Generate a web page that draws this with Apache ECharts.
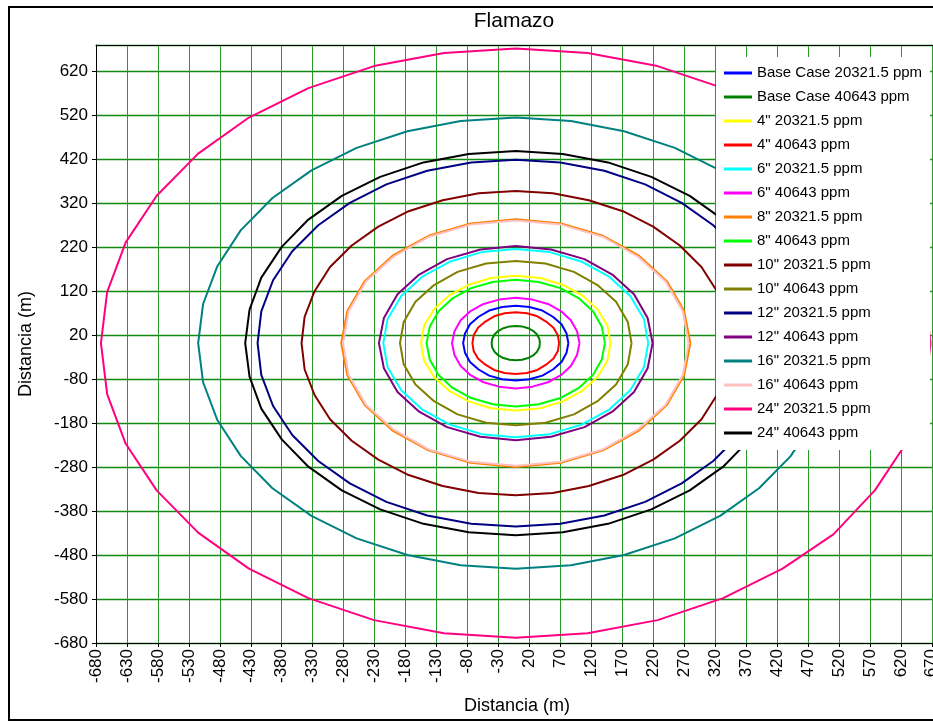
<!DOCTYPE html>
<html lang="es">
<head>
    <meta charset="UTF-8">
    <title>Flamazo</title>
    <script type="text/javascript" src="https://cdn.jsdelivr.net/npm/echarts@6/dist/echarts.min.js"></script>
    <style>
        html, body { margin: 0; padding: 0; background: #fff; }
    </style>
</head>
<body>
<div id="chart" style="width: 933px;height:721px;"></div>
<script>
    // nombres de las curvas (orden de la leyenda)
    var seriesNames = [
        'Base Case 20321.5 ppm', 'Base Case 40643 ppm',
        '4" 20321.5 ppm', '4" 40643 ppm',
        '6" 20321.5 ppm', '6" 40643 ppm',
        '8" 20321.5 ppm', '8" 40643 ppm',
        '10" 20321.5 ppm', '10" 40643 ppm',
        '12" 20321.5 ppm', '12" 40643 ppm',
        '16" 20321.5 ppm', '16" 40643 ppm',
        '24" 20321.5 ppm', '24" 40643 ppm'
    ];
    var seriesColors = [
        '#0000ff', '#008000', '#ffff00', '#ff0000', '#00ffff', '#ff00ff', '#ff8000', '#00ff00',
        '#800000', '#808000', '#000080', '#800080', '#008080', '#ffc0c0', '#ff0080', '#000000'
    ];

    // contornos [x, y] en metros
    var baseCase20321 = [[83,2],[80,24],[72,45],[58,62],[41,76],[20,84],[-2,87],[-24,84],[-45,76],[-62,62],[-76,45],[-84,24],[-87,2],[-84,-20],[-76,-41],[-62,-58],[-45,-72],[-24,-80],[-2,-83],[20,-80],[41,-72],[58,-58],[72,-41],[80,-20],[83,2]];
    var baseCase40643 = [[37,2],[36,12],[32,22],[26,30],[18,36],[8,40],[-2,41],[-12,40],[-22,36],[-30,30],[-36,22],[-40,12],[-41,2],[-40,-8],[-36,-18],[-30,-26],[-22,-32],[-12,-36],[-2,-37],[8,-36],[18,-32],[26,-26],[32,-18],[36,-8],[37,2]];
    var in4_20321 = [[151,2],[146,42],[130,79],[106,110],[75,134],[38,150],[-2,155],[-42,150],[-79,134],[-110,110],[-134,79],[-150,42],[-155,2],[-150,-38],[-134,-75],[-110,-106],[-79,-130],[-42,-146],[-2,-151],[38,-146],[75,-130],[106,-106],[130,-75],[146,-38],[151,2]];
    var in4_40643 = [[68,2],[66,20],[59,37],[47,51],[33,63],[16,70],[-2,72],[-20,70],[-37,63],[-51,51],[-63,37],[-70,20],[-72,2],[-70,-16],[-63,-33],[-51,-47],[-37,-59],[-20,-66],[-2,-68],[16,-66],[33,-59],[47,-47],[59,-33],[66,-16],[68,2]];
    var in6_20321 = [[212,2],[205,57],[183,109],[149,153],[105,187],[53,209],[-2,216],[-57,209],[-109,187],[-153,153],[-187,109],[-209,57],[-216,2],[-209,-53],[-187,-105],[-153,-149],[-109,-183],[-57,-205],[-2,-212],[53,-205],[105,-183],[149,-149],[183,-105],[205,-53],[212,2]];
    var in6_40643 = [[101,2],[97,29],[87,54],[71,75],[50,91],[25,101],[-2,105],[-29,101],[-54,91],[-75,75],[-91,54],[-101,29],[-105,2],[-101,-25],[-91,-50],[-75,-71],[-54,-87],[-29,-97],[-2,-101],[25,-97],[50,-87],[71,-71],[87,-50],[97,-25],[101,2]];
    var in8_20321 = [[280,2],[270,75],[242,143],[197,201],[139,246],[71,274],[-2,284],[-75,274],[-143,246],[-201,201],[-246,143],[-274,75],[-284,2],[-274,-71],[-246,-139],[-201,-197],[-143,-242],[-75,-270],[-2,-280],[71,-270],[139,-242],[197,-197],[242,-139],[270,-71],[280,2]];
    var in8_40643 = [[142,2],[137,39],[123,74],[100,104],[70,127],[35,141],[-2,146],[-39,141],[-74,127],[-104,104],[-127,74],[-141,39],[-146,2],[-141,-35],[-127,-70],[-104,-100],[-74,-123],[-39,-137],[-2,-142],[35,-137],[70,-123],[100,-100],[123,-70],[137,-35],[142,2]];
    var in10_20321 = [[344,2],[339,62],[323,120],[298,175],[263,224],[220,267],[171,302],[116,327],[58,343],[-2,348],[-62,343],[-120,327],[-175,302],[-224,267],[-267,224],[-302,175],[-327,120],[-343,62],[-348,2],[-343,-58],[-327,-116],[-302,-171],[-267,-220],[-224,-263],[-175,-298],[-120,-323],[-62,-339],[-2,-344],[58,-339],[116,-323],[171,-298],[220,-263],[263,-220],[298,-171],[323,-116],[339,-58],[344,2]];
    var in10_40643 = [[185,2],[179,50],[160,96],[130,134],[92,164],[46,183],[-2,189],[-50,183],[-96,164],[-134,134],[-164,96],[-183,50],[-189,2],[-183,-46],[-164,-92],[-134,-130],[-96,-160],[-50,-179],[-2,-185],[46,-179],[92,-160],[130,-130],[160,-92],[179,-46],[185,2]];
    var in12_20321 = [[415,2],[409,74],[390,145],[359,211],[317,270],[266,321],[207,363],[141,394],[70,413],[-2,419],[-74,413],[-145,394],[-211,363],[-270,321],[-321,270],[-363,211],[-394,145],[-413,74],[-419,2],[-413,-70],[-394,-141],[-363,-207],[-321,-266],[-270,-317],[-211,-359],[-145,-390],[-74,-409],[-2,-415],[70,-409],[141,-390],[207,-359],[266,-317],[317,-266],[359,-207],[390,-141],[409,-70],[415,2]];
    var in12_40643 = [[219,2],[211,59],[189,113],[154,158],[109,193],[55,215],[-2,223],[-59,215],[-113,193],[-158,158],[-193,113],[-215,59],[-223,2],[-215,-55],[-193,-109],[-158,-154],[-113,-189],[-59,-211],[-2,-219],[55,-211],[109,-189],[154,-154],[189,-109],[211,-55],[219,2]];
    var in16_20321 = [[511,2],[503,91],[480,177],[442,259],[391,332],[328,395],[255,446],[173,484],[87,507],[-2,515],[-91,507],[-177,484],[-259,446],[-332,395],[-395,332],[-446,259],[-484,177],[-507,91],[-515,2],[-507,-87],[-484,-173],[-446,-255],[-395,-328],[-332,-391],[-259,-442],[-177,-480],[-91,-503],[-2,-511],[87,-503],[173,-480],[255,-442],[328,-391],[391,-328],[442,-255],[480,-173],[503,-87],[511,2]];
    var in16_40643 = [[277,2],[268,74],[240,142],[195,199],[138,244],[70,272],[-2,281],[-74,272],[-142,244],[-199,199],[-244,142],[-272,74],[-281,2],[-272,-70],[-244,-138],[-199,-195],[-142,-240],[-74,-268],[-2,-277],[70,-268],[138,-240],[195,-195],[240,-138],[268,-70],[277,2]];
    var in24_20321 = [[668,2],[658,118],[628,231],[578,337],[511,433],[429,515],[333,582],[227,632],[114,662],[-2,672],[-118,662],[-231,632],[-337,582],[-433,515],[-515,433],[-582,337],[-632,231],[-662,118],[-672,2],[-662,-114],[-632,-227],[-582,-333],[-515,-429],[-433,-511],[-337,-578],[-231,-628],[-118,-658],[-2,-668],[114,-658],[227,-628],[333,-578],[429,-511],[511,-433],[578,-333],[628,-227],[658,-114],[668,2]];
    var in24_40643 = [[435,2],[428,78],[409,151],[376,221],[333,283],[279,337],[217,380],[147,413],[74,432],[-2,439],[-78,432],[-151,413],[-221,380],[-283,337],[-337,283],[-380,221],[-413,151],[-432,78],[-439,2],[-432,-74],[-413,-147],[-380,-217],[-337,-279],[-283,-333],[-221,-376],[-151,-409],[-78,-428],[-2,-435],[74,-428],[147,-409],[217,-376],[279,-333],[333,-279],[376,-217],[409,-147],[428,-74],[435,2]];

    var contours = [
        baseCase20321, baseCase40643, in4_20321, in4_40643, in6_20321, in6_40643, in8_20321, in8_40643,
        in10_20321, in10_40643, in12_20321, in12_40643, in16_20321, in16_40643, in24_20321, in24_40643
    ];

    var font = 'Liberation Sans, Arial, sans-serif';
    var gridGreen = '#2a9a2a';
    var series = [];
    for (var i = 0; i < seriesNames.length; i++) {
        series.push({
            name: seriesNames[i],
            type: 'line',
            data: contours[i],
            color: seriesColors[i],
            showSymbol: false,
            symbol: 'none',
            lineStyle: {width: 2, color: seriesColors[i]}
        });
    }

    var option = {
        animation: false,
        backgroundColor: '#fff',
        title: {
            text: 'Flamazo',
            left: 514,
            textAlign: 'center',
            top: 11,
            padding: 0,
            textStyle: {fontSize: 21, fontWeight: 'normal', color: '#000', fontFamily: font}
        },
        legend: {
            orient: 'vertical',
            left: 716,
            top: 57,
            padding: [4, 8, 5, 8],
            backgroundColor: '#fff',
            icon: 'rect',
            itemWidth: 28,
            itemHeight: 3,
            itemGap: 0,
            textStyle: {fontSize: 15, lineHeight: 24, color: '#000', fontFamily: font},
            data: seriesNames
        },
        grid: {
            left: 96, top: 45, width: 842, height: 598,
            outerBoundsMode: 'none'
        },
        xAxis: [{
            type: 'value',
            min: -680, max: 680, interval: 50,
            name: 'Distancia (m)',
            nameLocation: 'middle',
            nameGap: 54,
            nameTextStyle: {fontSize: 18, color: '#000', fontFamily: font},
            axisLine: {show: true, onZero: false, lineStyle: {color: '#000', width: 1}},
            axisTick: {show: true, length: 4, lineStyle: {color: '#000'}},
            axisLabel: {rotate: 90, margin: 6, fontSize: 17, color: '#000', fontFamily: font, showMaxLabel: false},
            splitLine: {show: true, lineStyle: {color: gridGreen, width: 1}}
        }, {
            // borde superior del área de trazado
            type: 'value',
            position: 'top',
            min: -680, max: 680,
            axisLine: {show: true, onZero: false, lineStyle: {color: '#000', width: 1}},
            axisTick: {show: false},
            axisLabel: {show: false},
            splitLine: {show: false}
        }],
        yAxis: {
            type: 'value',
            min: -680, max: 680, interval: 100,
            name: 'Distancia (m)',
            nameLocation: 'middle',
            nameGap: 61,
            nameTextStyle: {fontSize: 18, color: '#000', fontFamily: font},
            axisLine: {show: true, onZero: false, lineStyle: {color: '#000', width: 1}},
            axisTick: {show: true, length: 4, lineStyle: {color: '#000'}},
            axisLabel: {margin: 8, fontSize: 17, color: '#000', fontFamily: font, showMaxLabel: false},
            splitLine: {show: true, lineStyle: {color: '#118a11', width: 1.3}}
        },
        graphic: [{
            type: 'rect',
            z: 100,
            silent: true,
            shape: {x: 9, y: 7, width: 940, height: 713},
            style: {fill: 'none', stroke: '#000', lineWidth: 2}
        }],
        series: series
    };

    var myChart = echarts.init(document.getElementById('chart'));
    myChart.setOption(option);
</script>
</body>
</html>
